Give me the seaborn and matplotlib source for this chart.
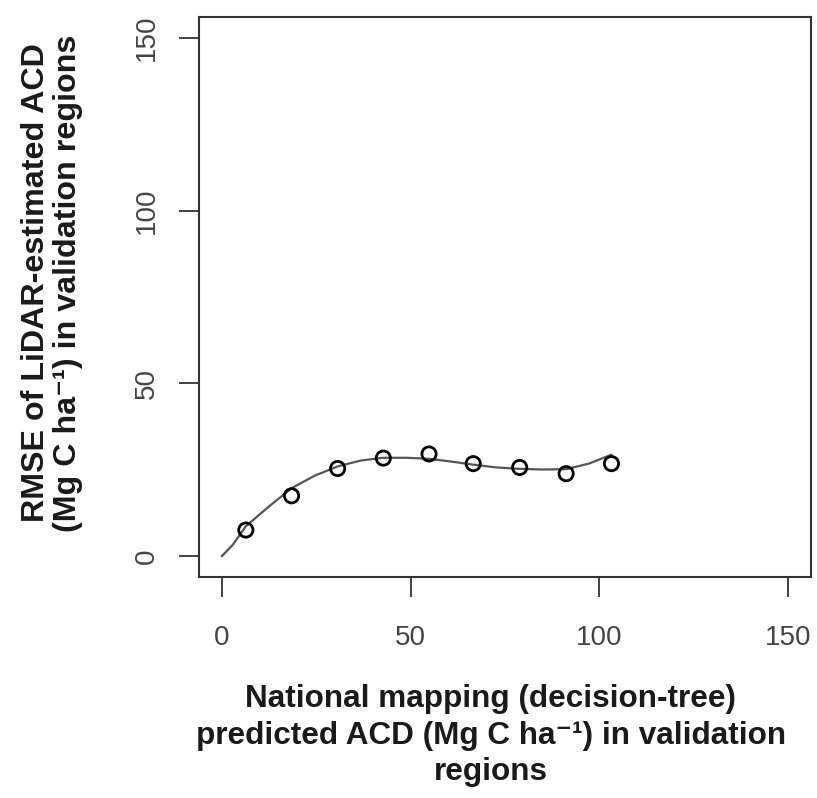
import matplotlib
matplotlib.use("Agg")
import matplotlib.pyplot as plt
import numpy as np
import pandas as pd
import seaborn as sns

# binned validation points
pred_acd = [6.4, 18.5, 30.7, 42.8, 54.9, 66.6, 78.9, 91.2, 103.2]
rmse = [7.6, 17.5, 25.4, 28.4, 29.6, 26.8, 25.7, 23.9, 26.8]

# smooth fitted curve, sampled from the figure
curve_x = [0, 3, 6.4, 12.5, 18.5, 24.6, 30.7, 36.8, 42.8, 48.9, 54.9,
           60.8, 66.6, 72.8, 78.9, 85.0, 91.2, 97.2, 103.2]
curve_y = [0, 3.4, 8.7, 14.4, 19.7, 23.3, 26.0, 27.7, 28.5, 28.5, 28.2,
           27.4, 26.5, 25.7, 25.3, 25.1, 25.2, 26.8, 29.4]

ticks = [0, 50, 100, 150]

sns.set_style("ticks")
plt.rcParams["font.family"] = ["Liberation Sans", "DejaVu Sans"]

points = pd.DataFrame({"x": pred_acd, "y": rmse})
fit = pd.DataFrame({"x": curve_x, "y": curve_y})

fig = plt.figure(figsize=(8.17, 7.98), dpi=100)
ax = fig.add_axes([0.2436, 0.2769, 0.9925 - 0.2436, 0.9787 - 0.2769])

sns.lineplot(data=fit, x="x", y="y", ax=ax, color="#555555", linewidth=1.6, sort=False)
sns.scatterplot(data=points, x="x", y="y", ax=ax, marker="o", s=105,
                facecolor="none", edgecolor="black", linewidth=2.0, zorder=3)

ax.set_xlim(-6, 156)
ax.set_ylim(-6, 156)
ax.set_xticks(ticks)
ax.set_yticks(ticks)
ax.tick_params(length=14.5, width=1.3, color="#333333", labelsize=20,
               labelcolor="#444444", pad=14)
ax.tick_params(axis="x", pad=20)
for lab in ax.get_yticklabels():
    lab.set_rotation(90)
    lab.set_va("center")

for sp in ax.spines.values():
    sp.set_color("#333333")
    sp.set_linewidth(1.5)

ax.set_xlabel("National mapping (decision-tree)\n"
              "predicted ACD (Mg C ha\u207b\u00b9) in validation\nregions",
              fontsize=22.7, fontweight="bold", color="#1a1a1a", labelpad=24,
              linespacing=1.28)
ax.set_ylabel("RMSE of LiDAR-estimated ACD\n"
              "(Mg C ha\u207b\u00b9) in validation regions",
              fontsize=23.2, fontweight="bold", color="#1a1a1a", labelpad=36,
              linespacing=1.1)
ax.xaxis.label.set_x(0.477)
ax.yaxis.label.set_y(0.525)

fig.savefig("out.png", dpi=100)
